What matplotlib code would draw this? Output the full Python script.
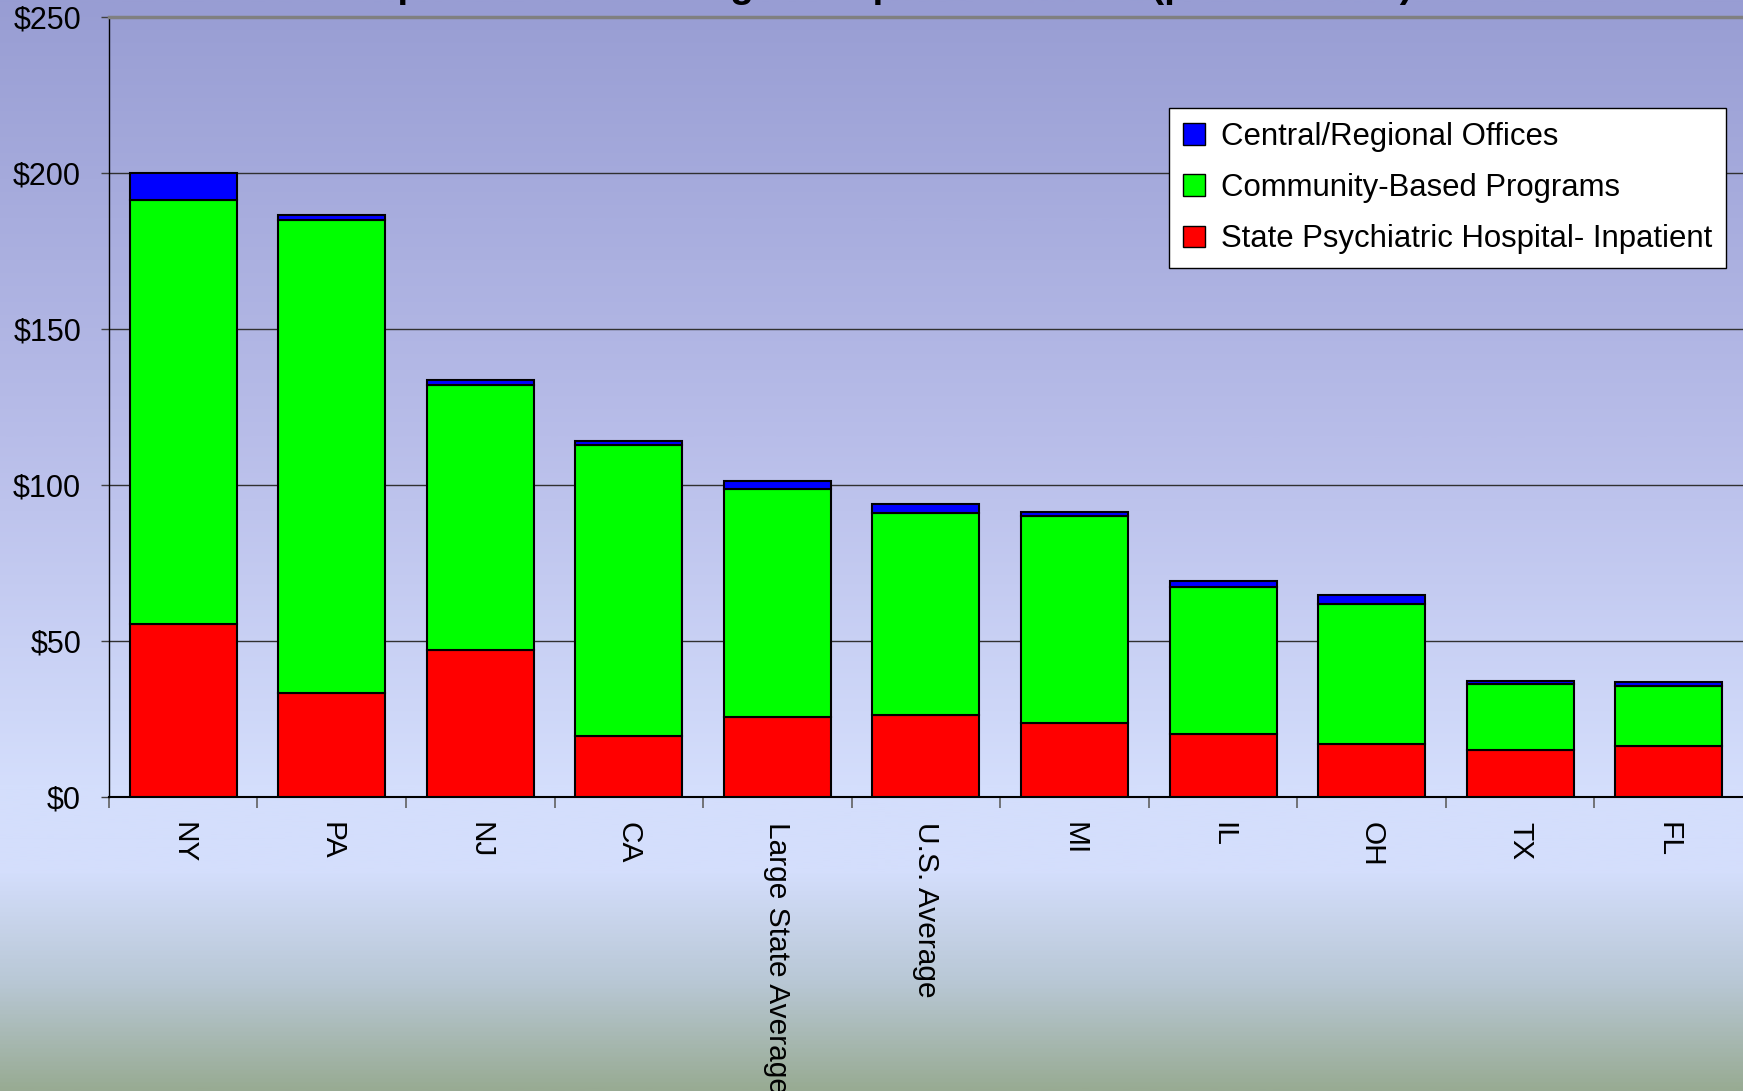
import matplotlib
matplotlib.use('Agg')
import matplotlib.pyplot as plt
import numpy as np
from matplotlib.colors import LinearSegmentedColormap
from matplotlib.patches import Patch

plt.rcParams['font.family'] = ['Liberation Sans', 'DejaVu Sans']

# data ($ per resident)
states = ['NY', 'PA', 'NJ', 'CA', 'Large State Average', 'U.S. Average',
          'MI', 'IL', 'OH', 'TX', 'FL']
hospital = [55.5, 33.3, 47.0, 19.6, 25.5, 26.2, 23.6, 20.3, 17.0, 15.0, 16.3]
community = [135.9, 151.7, 85.0, 93.3, 73.2, 64.7, 66.5, 47.1, 44.8, 21.2, 19.3]
central = [8.6, 1.5, 1.5, 1.0, 2.4, 2.9, 1.1, 1.7, 2.8, 1.1, 1.1]
yticks = [0, 50, 100, 150, 200, 250]
ytick_labels = ['$0', '$50', '$100', '$150', '$200', '$250']

fig = plt.figure(figsize=(17.43, 10.91), dpi=100)

# background gradient
bg = fig.add_axes([0, 0, 1, 1], zorder=-10)
cmap = LinearSegmentedColormap.from_list('bg', [
    (0.0, '#989dd3'),
    (0.40, '#b8bde9'),
    (0.72, '#d4defc'),
    (0.80, '#d4defc'),
    (0.90, '#b9c8d6'),
    (1.0, '#98ab93')])
grad = np.linspace(0, 1, 512).reshape(-1, 1)
bg.imshow(grad, aspect='auto', cmap=cmap, extent=[0, 1, 0, 1])
bg.set_axis_off()

# cut-off title at the top edge
fig.text(0.47, 1.003, 'SMHA Expenditures for Large Comparison States (per Resident)',
         ha='center', va='baseline', fontsize=28, fontweight='bold')

ax = fig.add_axes([0.0625, 0.2695, 0.9375, 0.7152])
ax.patch.set_alpha(0)

x = np.arange(len(states))
w = 0.72
bottom2 = np.array(hospital) + np.array(community)
ax.bar(x, hospital, w, color='#ff0000', edgecolor='black', linewidth=1.5, zorder=3)
ax.bar(x, community, w, bottom=hospital, color='#00ff00', edgecolor='black',
       linewidth=1.5, zorder=3)
ax.bar(x, central, w, bottom=bottom2, color='#0000ff', edgecolor='black',
       linewidth=1.5, zorder=3)

ax.set_xlim(-0.5, len(states) - 0.5)
ax.set_ylim(0, 250)
ax.set_yticks(yticks)
ax.set_yticklabels(ytick_labels)
ax.tick_params(axis='y', direction='out', length=6, width=1, colors='#404040',
               labelcolor='black', labelsize=22, pad=14)

ax.set_xticks(x)
ax.set_xticklabels(states, rotation=270, fontsize=21.5, va='top', ha='center')
ax.tick_params(axis='x', which='major', length=0, pad=18)
ax.set_xticks(np.arange(len(states)) - 0.5, minor=True)
ax.tick_params(axis='x', which='minor', direction='out', length=8, width=1.2,
               color='#606060')

for v in yticks[1:-1]:
    ax.axhline(v, color='#303030', linewidth=1, zorder=1)

ax.spines['right'].set_visible(False)
ax.spines['top'].set_color('#808080')
ax.spines['top'].set_linewidth(2.5)
ax.spines['left'].set_color('black')
ax.spines['left'].set_linewidth(1)
ax.spines['bottom'].set_color('black')
ax.spines['bottom'].set_linewidth(1.5)

handles = [Patch(facecolor='#0000ff', edgecolor='black'),
           Patch(facecolor='#00ff00', edgecolor='black'),
           Patch(facecolor='#ff0000', edgecolor='black')]
labels = ['Central/Regional Offices', 'Community-Based Programs',
          'State Psychiatric Hospital- Inpatient']
leg = fig.legend(handles, labels, loc='upper right',
                 bbox_to_anchor=(1726 / 1743, 1 - 108 / 1091),
                 fontsize=22.4, frameon=True, fancybox=False, framealpha=1,
                 handlelength=0.7, handleheight=0.7, handletextpad=0.5,
                 labelspacing=0.68, borderpad=0.45, borderaxespad=0)
leg.get_frame().set_edgecolor('black')
leg.get_frame().set_linewidth(1)

fig.savefig('out.png', dpi=100)
